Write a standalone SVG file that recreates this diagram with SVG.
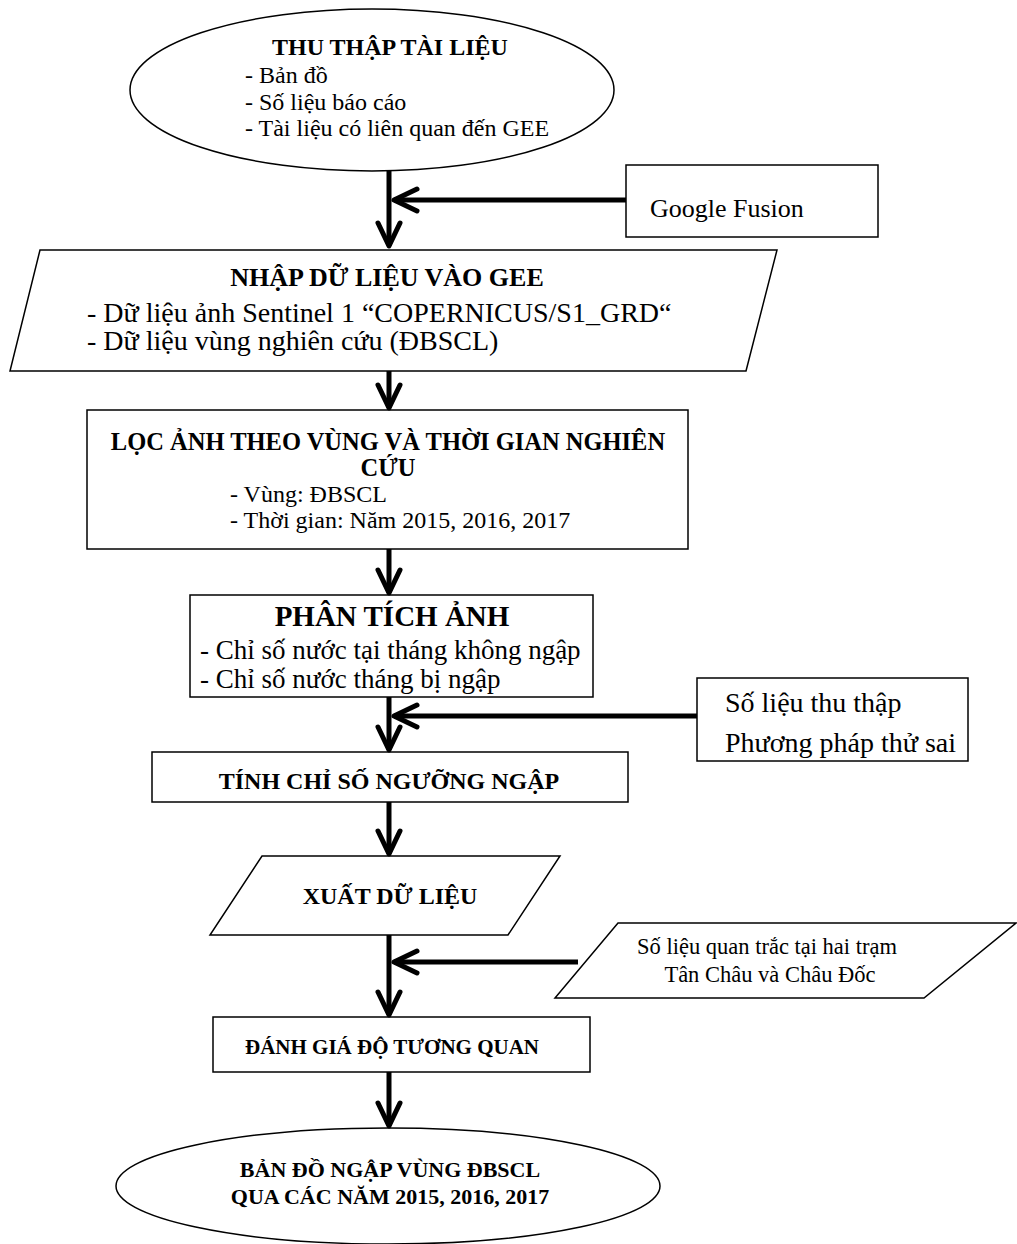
<svg xmlns="http://www.w3.org/2000/svg" width="1017" height="1244" viewBox="0 0 1017 1244">
<style>
.shape{fill:#fff;stroke:#000;stroke-width:1.5}
text{font-family:"Liberation Serif","Times New Roman",serif;fill:#000}
.b{font-weight:bold}
.m{text-anchor:middle}
.conn{fill:none;stroke:#000;stroke-width:5;marker-end:url(#chev)}
</style>
<defs>
<marker id="chev" markerUnits="userSpaceOnUse" markerWidth="30" markerHeight="28" viewBox="0 0 30 28" refX="26" refY="14" orient="auto" overflow="visible">
<path d="M3,3 L26,14 L3,25" fill="none" stroke="#000" stroke-width="5" stroke-linecap="round" stroke-linejoin="round"/>
</marker>
</defs>
<rect width="1017" height="1244" fill="#fff"/>

<g id="n-thuthap">
<ellipse class="shape" cx="372" cy="90" rx="242" ry="81"/>
<text class="b" x="272" y="55" font-size="24">THU THẬP TÀI LIỆU</text>
<text x="245" y="83" font-size="24">- Bản đồ</text>
<text x="245" y="110" font-size="24">- Số liệu báo cáo</text>
<text x="245" y="136" font-size="24">- Tài liệu có liên quan đến GEE</text>
</g>

<g id="n-google">
<rect class="shape" x="626" y="165" width="252" height="72"/>
<text x="650" y="217" font-size="26">Google Fusion</text>
</g>

<g id="n-nhap">
<polygon class="shape" points="40,250 777,250 746,371 10,371"/>
<text class="b m" x="387" y="286" font-size="26">NHẬP DỮ LIỆU VÀO GEE</text>
<text x="87" y="322" font-size="28">- Dữ liệu ảnh Sentinel 1 “COPERNICUS/S1_GRD“</text>
<text x="87" y="350" font-size="28">- Dữ liệu vùng nghiên cứu (ĐBSCL)</text>
</g>

<g id="n-loc">
<rect class="shape" x="87" y="410" width="601" height="139"/>
<text class="b m" x="388" y="450" font-size="24.5">LỌC ẢNH THEO VÙNG VÀ THỜI GIAN NGHIÊN</text>
<text class="b m" x="388" y="476" font-size="24.5">CỨU</text>
<text x="230" y="502" font-size="24">- Vùng: ĐBSCL</text>
<text x="230" y="528" font-size="24">- Thời gian: Năm 2015, 2016, 2017</text>
</g>

<g id="n-phantich">
<rect class="shape" x="190" y="595" width="403" height="102"/>
<text class="b m" x="392" y="626" font-size="29">PHÂN TÍCH ẢNH</text>
<text x="200" y="659" font-size="27">- Chỉ số nước tại tháng không ngập</text>
<text x="200" y="688" font-size="27">- Chỉ số nước tháng bị ngập</text>
</g>

<g id="n-solieu">
<rect class="shape" x="697" y="678" width="271" height="83"/>
<text x="725" y="712" font-size="28">Số liệu thu thập</text>
<text x="725" y="752" font-size="28">Phương pháp thử sai</text>
</g>

<g id="n-nguong">
<rect class="shape" x="152" y="752" width="476" height="50"/>
<text class="b m" x="389" y="789" font-size="24">TÍNH CHỈ SỐ NGƯỠNG NGẬP</text>
</g>

<g id="n-xuat">
<polygon class="shape" points="262,856 560,856 508,935 210,935"/>
<text class="b m" x="390" y="904" font-size="24">XUẤT DỮ LIỆU</text>
</g>

<g id="n-quantrac">
<polygon class="shape" points="618,923 1016,923 924,998 555,998"/>
<text class="m" x="767" y="954" font-size="22.5">Số liệu quan trắc tại hai trạm</text>
<text class="m" x="770" y="982" font-size="22.5">Tân Châu và Châu Đốc</text>
</g>

<g id="n-danhgia">
<rect class="shape" x="213" y="1017" width="377" height="55"/>
<text class="b m" x="392" y="1054" font-size="21">ĐÁNH GIÁ ĐỘ TƯƠNG QUAN</text>
</g>

<g id="n-bando">
<ellipse class="shape" cx="388" cy="1186" rx="272" ry="58"/>
<text class="b m" x="390" y="1177" font-size="22">BẢN ĐỒ NGẬP VÙNG ĐBSCL</text>
<text class="b m" x="390" y="1204" font-size="22">QUA CÁC NĂM 2015, 2016, 2017</text>
</g>

<g id="connectors">
<path class="conn" d="M389,171 L389,246"/>
<path class="conn" d="M626,200 L394,200"/>
<path class="conn" d="M389,371 L389,408"/>
<path class="conn" d="M389,549 L389,593"/>
<path class="conn" d="M389,697 L389,750"/>
<path class="conn" d="M697,716 L394,716"/>
<path class="conn" d="M389,802 L389,854"/>
<path class="conn" d="M389,935 L389,1015"/>
<path class="conn" d="M578,962 L394,962"/>
<path class="conn" d="M389,1072 L389,1126"/>
</g>
</svg>
